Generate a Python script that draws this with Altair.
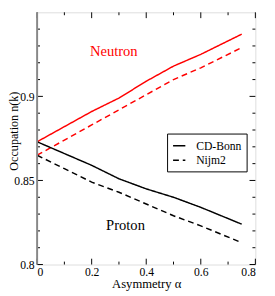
import altair as alt
import pandas as pd

alpha = [0.0, 0.1, 0.2, 0.3, 0.4, 0.5, 0.6, 0.75]
neutron_cdbonn = [0.873, 0.882, 0.891, 0.899, 0.909, 0.918, 0.925, 0.937]
neutron_nijm2 = [0.865, 0.874, 0.883, 0.892, 0.901, 0.910, 0.917, 0.929]
proton_cdbonn = [0.873, 0.866, 0.859, 0.851, 0.845, 0.840, 0.834, 0.824]
proton_nijm2 = [0.865, 0.857, 0.849, 0.843, 0.836, 0.829, 0.823, 0.813]

x_major = [0.0, 0.2, 0.4, 0.6, 0.8]
x_minor = [0.1, 0.3, 0.5, 0.7]
y_major = [0.8, 0.85, 0.9]
y_minor = [0.81, 0.82, 0.83, 0.84, 0.86, 0.87, 0.88, 0.89, 0.91, 0.92, 0.93, 0.94]

labels = ["Neutron", "Proton"]
label_x = [0.281, 0.324]
label_y = [0.927, 0.8237]
label_color = ["#ff0000", "#000000"]

W, H = 225, 260
FONT = "Liberation Serif"

rows = []
for particle, pot, vals in [("Neutron", "CD-Bonn", neutron_cdbonn),
                            ("Neutron", "Nijm2", neutron_nijm2),
                            ("Proton", "CD-Bonn", proton_cdbonn),
                            ("Proton", "Nijm2", proton_nijm2)]:
    for a, v in zip(alpha, vals):
        rows.append({"alpha": a, "n": v, "particle": particle, "potential": pot,
                     "series": particle + pot})
df = pd.DataFrame(rows)

xscale = alt.Scale(domain=[0, 0.8], nice=False, zero=False)
yscale = alt.Scale(domain=[0.8, 0.95], nice=False, zero=False)

x_axis = alt.Axis(values=x_major, format="~g", ticks=False, domain=False,
                  grid=False, labelPadding=2, labelFontSize=12,
                  labelFont=FONT, labelColor="black",
                  title="Asymmetry α", titleFont=FONT, titleFontSize=13,
                  titleFontWeight="normal", titleColor="black",
                  titlePadding=1)
y_axis = alt.Axis(values=y_major, format="~g", ticks=False, domain=False,
                  grid=False, labelPadding=3, labelFontSize=12,
                  labelFont=FONT, labelColor="black",
                  title="Occupation n(k)", titleFont=FONT, titleFontSize=12.5,
                  titleFontWeight="normal", titleColor="black",
                  titleX=-24, titleY=H / 2 - 8, titleBaseline="middle",
                  titleAnchor="middle")

lines = alt.Chart(df).mark_line(strokeWidth=1.5).encode(
    x=alt.X("alpha:Q", scale=xscale, axis=x_axis, title="Asymmetry α"),
    y=alt.Y("n:Q", scale=yscale, axis=y_axis, title="Occupation n(k)"),
    color=alt.Color("particle:N", scale=alt.Scale(domain=["Neutron", "Proton"],
                                                  range=["#ff0000", "#000000"]),
                    legend=None),
    strokeDash=alt.StrokeDash("potential:N",
                              scale=alt.Scale(domain=["CD-Bonn", "Nijm2"],
                                              range=[[1, 0], [6, 4]]),
                              legend=alt.Legend(title=None, orient="none",
                                                legendX=134, legendY=125,
                                                strokeColor="black", padding=5,
                                                symbolType="stroke",
                                                symbolStrokeColor="black",
                                                symbolStrokeWidth=1.5,
                                                symbolSize=160,
                                                labelFont=FONT, labelFontSize=12,
                                                labelColor="black",
                                                labelOffset=10, rowPadding=1,
                                                fillColor="white")),
    detail="series:N",
)

txt_df = pd.DataFrame({"label": labels, "x": label_x, "y": label_y, "c": label_color})
texts = alt.Chart(txt_df).mark_text(font=FONT, fontSize=15).encode(
    x=alt.X("x:Q", scale=xscale, axis=x_axis, title="Asymmetry α"),
    y=alt.Y("y:Q", scale=yscale, axis=y_axis, title="Occupation n(k)"),
    text="label:N", color=alt.Color("c:N", scale=None))

xmaj = pd.DataFrame({"v": x_major})
xmin = pd.DataFrame({"v": x_minor})
ymaj = pd.DataFrame({"v": y_major})
ymin = pd.DataFrame({"v": y_minor})

def xticks(d, length):
    b = alt.Chart(d).mark_rule(color="black", strokeWidth=1).encode(
        x=alt.X("v:Q", scale=xscale, axis=x_axis, title="Asymmetry α"),
        y=alt.value(H), y2=alt.value(H - length))
    t = alt.Chart(d).mark_rule(color="black", strokeWidth=1).encode(
        x=alt.X("v:Q", scale=xscale, axis=x_axis, title="Asymmetry α"),
        y=alt.value(0), y2=alt.value(length))
    return [b, t]

def yticks(d, length):
    l = alt.Chart(d).mark_rule(color="black", strokeWidth=1).encode(
        y=alt.Y("v:Q", scale=yscale, axis=y_axis, title="Occupation n(k)"),
        x=alt.value(0), x2=alt.value(length))
    r = alt.Chart(d).mark_rule(color="black", strokeWidth=1).encode(
        y=alt.Y("v:Q", scale=yscale, axis=y_axis, title="Occupation n(k)"),
        x=alt.value(W), x2=alt.value(W - length))
    return [l, r]

ticks = xticks(xmaj, 6) + xticks(xmin, 3) + yticks(ymaj, 6) + yticks(ymin, 3)

left_edge = alt.Chart(pd.DataFrame({"v": [0]})).mark_rule(
    color="#888888", strokeWidth=2).encode(
    x=alt.value(0), y=alt.value(0), y2=alt.value(H))

chart = alt.layer(lines, *ticks, texts, left_edge).properties(
    width=W, height=H,
    autosize=alt.AutoSizeParams(type="none"),
    padding={"left": 30, "top": 0, "right": 12, "bottom": 28},
).configure_view(stroke="black", strokeWidth=1).configure(
    background="white", font=FONT
).configure_legend(labelFont=FONT)

chart.save("out.html", embed_options={"renderer": "svg", "actions": False})
